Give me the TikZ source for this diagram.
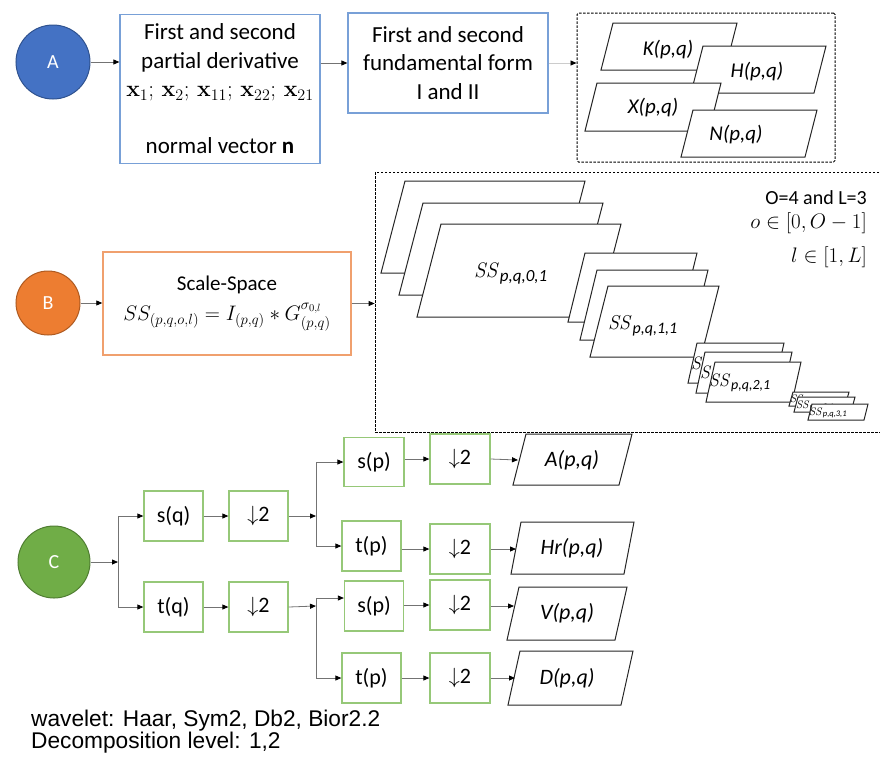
\RequirePackage{fix-cm}
\documentclass[tikz,border=0pt]{standalone}
\usepackage[no-math]{fontspec}
\setmainfont{Carlito}
\newfontfamily\arialf{Liberation Sans}
\usepackage{amsmath}
\usetikzlibrary{arrows.meta}
\definecolor{cblue}{RGB}{68,114,196}
\definecolor{cblueD}{RGB}{47,82,143}
\definecolor{boxblue}{RGB}{120,160,215}
\definecolor{corange}{RGB}{237,125,49}
\definecolor{corangeD}{RGB}{174,90,33}
\definecolor{boxorange}{RGB}{240,160,110}
\definecolor{cgreen}{RGB}{112,173,71}
\definecolor{cgreenD}{RGB}{80,126,50}
\definecolor{boxgreen}{RGB}{150,200,120}
\newcommand\para[5]{\draw[pbox] (#1,#2) -- ++(#3,0) -- ++(-#5,#4) -- ++(-#3,0) -- cycle;}
\newcommand\sslab[3]{\fontsize{#1}{#1}\selectfont$\mathit{SS}_{\hbox{\fontsize{#2}{#2}\selectfont\itshape #3}}$}
\newcommand\fs[1]{\fontsize{#1}{#1}\selectfont}
\tikzset{
  conn/.style={draw=black!55, line width=0.8pt, -{Triangle[length=6pt,width=5pt,color=black]}},
  lconn/.style={draw=black!20, line width=0.8pt, -{Triangle[length=6pt,width=5pt,color=black]}},
  plain/.style={draw=black!55, line width=0.8pt},
  circ/.style={circle, line width=1pt, text=white, font=\fs{20}},
  bbox/.style={draw=boxblue, line width=1.2pt, fill=white, align=center, font=\fontsize{23}{28.5}\selectfont, inner sep=0pt},
  obox/.style={draw=boxorange, line width=1.4pt, fill=white, align=center, font=\fs{21}, inner sep=0pt},
  gbox/.style={draw=boxgreen, line width=1.3pt, fill=white, minimum width=59pt, minimum height=50pt, font=\fs{22}, inner sep=0pt},
  dbox/.style={draw=black, dash pattern=on 2.5pt off 1.5pt, line width=1pt, rounded corners=1.5pt, inner sep=0pt},
  pbox/.style={draw=black!85, line width=1pt, fill=white},
  plab/.style={font=\fs{21}\itshape, inner sep=0pt},
  slab/.style={anchor=west, inner sep=0pt},
}
\begin{document}
\begin{tikzpicture}[x=1pt,y=-1pt]
\useasboundingbox (0,0) rectangle (880,769);

% ---------- Row A ----------
\node[circ, fill=cblue, draw=cblueD, minimum size=74pt] (A) at (53,62) {A};
\node[bbox, minimum width=200pt, minimum height=149pt] (b1) at (220,89) {First and second\\partial derivative\\$\mathbf{x}_1;\,\mathbf{x}_2;\,\mathbf{x}_{11};\,\mathbf{x}_{22};\,\mathbf{x}_{21}$\\~\\normal vector \textbf{n}};
\node[bbox, minimum width=200pt, minimum height=100pt] (b2) at (448,63) {First and second\\fundamental form\\I and II};
\node[dbox, minimum width=258pt, minimum height=149pt] (dA) at (706,87.5) {};
\draw[conn] (A.east) -- (A.east -| b1.west);
\draw[conn] (b1.east |- b2.west) -- (b2.west);
\draw[lconn] (b2.east) -- (b2.east -| dA.west);

\para{613}{23}{124}{47}{12}
\node[plab] (kl) at (668,50) {K(p,q)};
\para{703}{46}{123}{47}{12}
\node[plab] (hl) at (757,72) {H(p,q)};
\para{597}{83}{124}{48}{12}
\node[plab] (xl) at (653,108) {X(p,q)};
\para{693}{110}{124}{47}{12}
\node[plab] (nl) at (736,135) {N(p,q)};

% ---------- Row B ----------
\node[circ, fill=corange, draw=corangeD, minimum size=64pt] (B) at (48,303) {B};
\node[obox, minimum width=248pt, minimum height=103pt] (sbox) at (227,303.5) {Scale-Space\\[8pt]$SS_{(p,q,o,l)} = I_{(p,q)} * G^{\sigma_{0,l}}_{(p,q)}$};
\node[dbox, rounded corners=0pt, line width=0.8pt, minimum width=512pt, minimum height=260pt] (dB) at (631,302) {};
\draw[conn] (B.east) -- (B.east -| sbox.west);
\draw[conn] (sbox.east) -- (sbox.east -| dB.west);

% stack 0
\para{405}{181}{180}{92}{24}
\para{423}{203}{180}{92}{24}
\para{441}{224}{180}{93}{24}
\node[slab] (s0) at (474,274) {\sslab{21}{17}{p,q,0,1}};
% stack 1
\para{585}{253}{112}{69}{17}
\para{597}{270}{111}{70}{17}
\para{608}{286}{111}{71}{18}
\node[slab] (s1) at (608,326) {\sslab{20}{16}{p,q,1,1}};
% stack 2
\para{697}{343}{87}{40}{9}
\node[slab] (s2a) at (691,366) {\sslab{18}{14}{p,q,2,1}};
\para{705}{352}{87}{41}{9}
\node[slab] (s2b) at (700,375) {\sslab{18}{14}{p,q,2,1}};
\para{715}{362}{86}{40}{9}
\node[slab] (s2c) at (709,383) {\sslab{18}{14}{p,q,2,1}};
% stack 3
\para{793}{392}{56}{14}{4}
\node[slab] (s3a) at (790,400) {\sslab{11}{8.5}{p,q,3,1}};
\para{798}{397}{57}{15}{4}
\node[slab] (s3b) at (796,406) {\sslab{11}{8.5}{p,q,3,1}};
\para{812}{404}{56}{16}{4}
\node[slab] (s3c) at (809,413) {\sslab{11}{8.5}{p,q,3,1}};

\node[font=\fs{20}, anchor=east, inner sep=0pt] (t1) at (867,198) {O=4 and L=3};
\node[font=\fs{21}, anchor=east, inner sep=0pt] (t2) at (867,223) {$o\in[0{,}\,O-1]$};
\node[font=\fs{21}, anchor=east, inner sep=0pt] (t3) at (867,257) {$l\in[1{,}\,L]$};

% ---------- Row C ----------
\node[circ, fill=cgreen, draw=cgreenD, minimum size=72pt] (C) at (54,562) {C};
\node[gbox] (sq) at (173.5,516) {s(q)};
\node[gbox] (d1) at (258.5,516) {$\downarrow$2};
\node[gbox] (tq) at (173.5,607) {t(q)};
\node[gbox] (d2) at (258.5,607) {$\downarrow$2};
\node[gbox, minimum width=60pt, minimum height=49pt] (sp1) at (374,462) {s(p)};
\node[gbox] (tp1) at (371.5,546) {t(p)};
\node[gbox] (sp2) at (374,606) {s(p)};
\node[gbox] (tp2) at (371.5,678) {t(p)};
\node[gbox, minimum width=60pt] (d3) at (460,459) {$\downarrow$2};
\node[gbox, minimum width=60pt] (d4) at (460,549) {$\downarrow$2};
\node[gbox, minimum width=60pt] (d5) at (460,605) {$\downarrow$2};
\node[gbox, minimum width=60pt] (d6) at (460,678) {$\downarrow$2};

\para{526}{434}{106}{51}{13}
\node[plab, font=\fs{22}\itshape] (al) at (572,460) {A(p,q)};
\para{521}{522}{113}{52}{10}
\node[plab, font=\fs{22}\itshape] (hrl) at (572,548) {Hr(p,q)};
\para{519}{587}{108}{53}{12}
\node[plab, font=\fs{22}\itshape] (vl) at (567,613) {V(p,q)};
\para{520}{651}{113}{54}{12}
\node[plab, font=\fs{22}\itshape] (dl) at (567,678) {D(p,q)};

\coordinate (j1) at (118,562);
\coordinate (j1t) at (118,516);
\coordinate (j1b) at (118,607);
\coordinate (j2) at (316,516);
\coordinate (j2t) at (316,462);
\coordinate (j2b) at (316,546);
\coordinate (j3) at (316,606);
\coordinate (j3t) at (316,598);
\coordinate (j3b) at (316,678);
\coordinate (ea) at (518,460);
\coordinate (eh) at (516,549);
\coordinate (ev) at (514,606);
\coordinate (ed) at (515,678);

\draw[conn] (C.east) -- (j1);
\draw[plain] (j1t) -- (j1b);
\draw[conn] (j1t) -- (sq.west);
\draw[conn] (j1b) -- (tq.west);
\draw[conn] (sq) -- (d1);
\draw[conn] (tq) -- (d2);
\draw[conn] (d1.east) -- (j2);
\draw[plain] (j2t) -- (j2b);
\draw[conn] (j2t) -- (sp1.west);
\draw[conn] (j2b) -- (tp1.west);
\draw[conn] (d2.east) -- (j3);
\draw[plain] (j3t) -- (j3b);
\draw[conn] (j3t) -- (j3t -| sp2.west);
\draw[conn] (j3b) -- (tp2.west);
\draw[conn] (sp1.east |- d3) -- (d3.west);
\draw[conn] (tp1.east |- d4) -- (d4.west);
\draw[conn] (sp2.east |- d5) -- (d5.west);
\draw[conn] (tp2.east) -- (d6.west);
\draw[conn] (d3.east) -- (ea);
\draw[conn] (d4.east) -- (eh);
\draw[conn] (d5.east |- ev) -- (ev);
\draw[conn] (d6.east) -- (ed);

% ---------- Notes ----------
\node[font=\arialf\fontsize{22.7}{21.5}\selectfont, anchor=north west, align=left, inner sep=0pt] (note) at (31,710) {wavelet: Haar, Sym2, Db2, Bior2.2\\Decomposition level: 1,2};
\end{tikzpicture}
\end{document}
